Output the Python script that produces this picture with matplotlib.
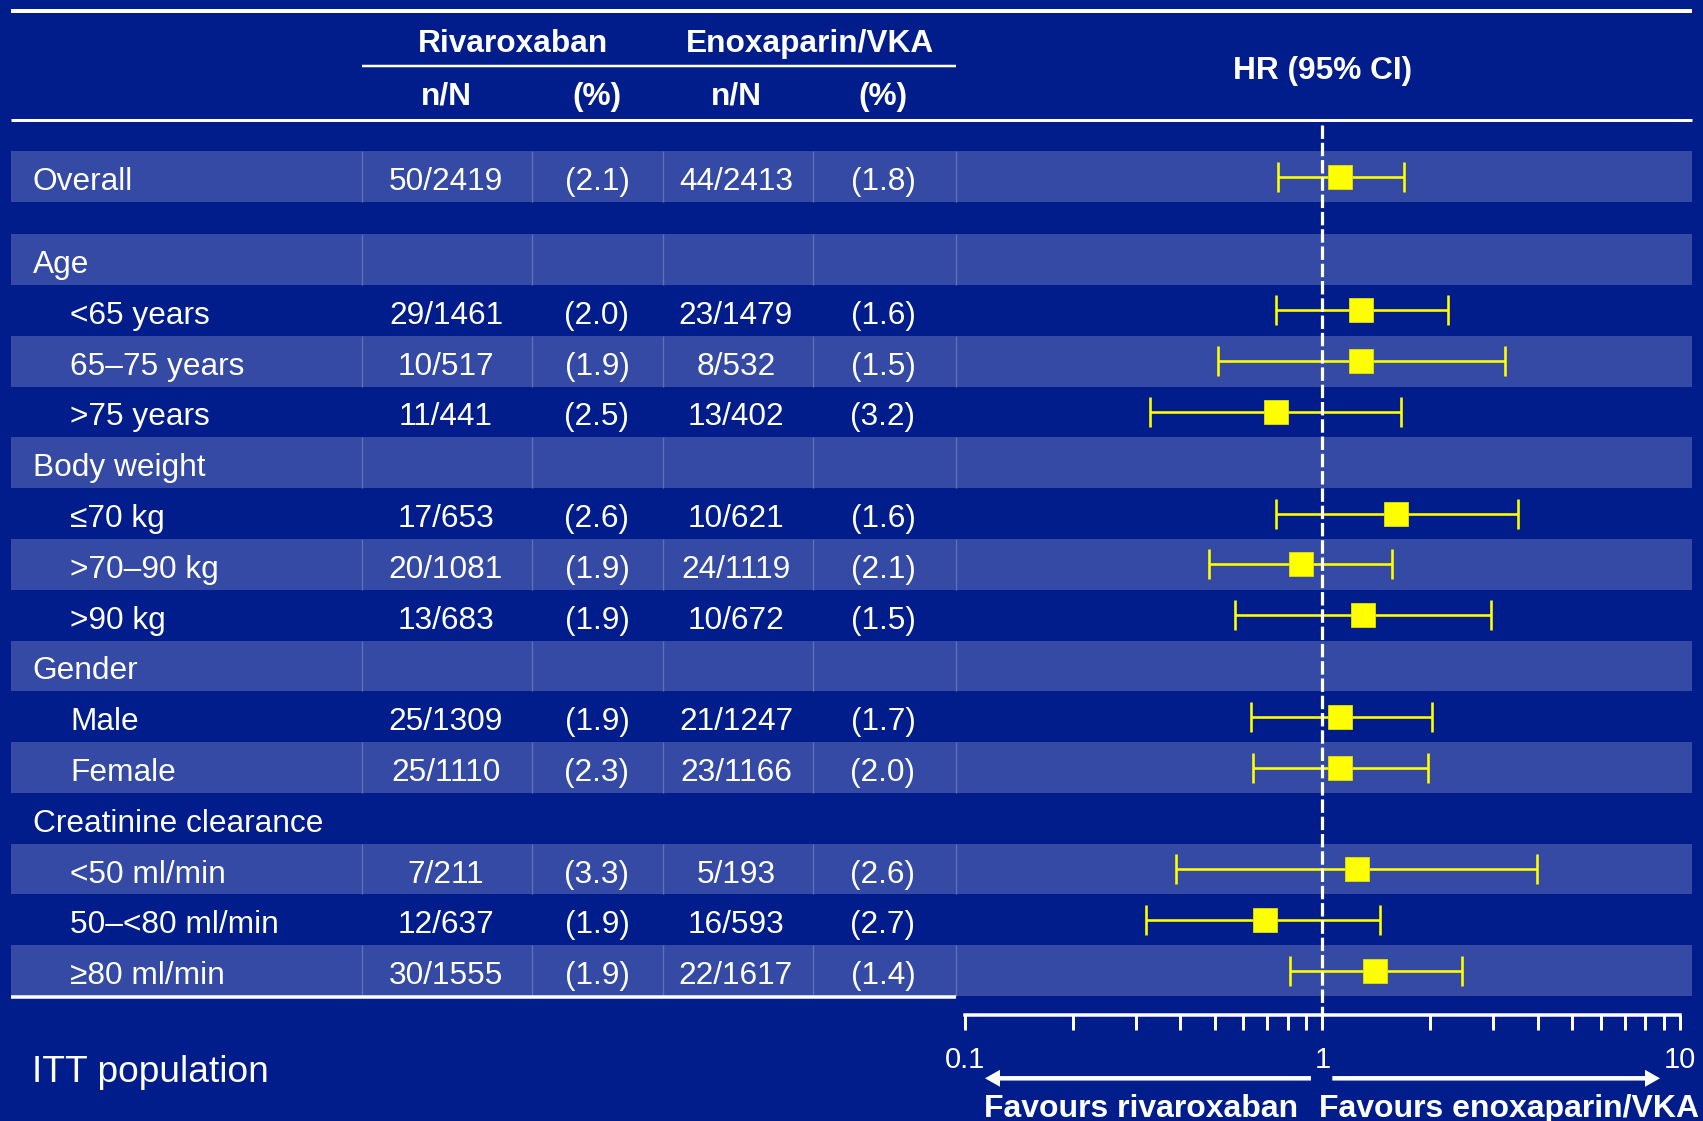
import matplotlib
matplotlib.use("Agg")
import matplotlib.pyplot as plt
from matplotlib.patches import Rectangle, FancyArrow
from matplotlib.ticker import FixedLocator, FixedFormatter, NullFormatter

plt.rcParams['font.family'] = ['Liberation Sans', 'DejaVu Sans']

# ---------------------------------------------------------------- data
labels = ["Overall", "Age", "<65 years", "65\u201375 years", ">75 years",
          "Body weight", "\u226470 kg", ">70\u201390 kg", ">90 kg",
          "Gender", "Male", "Female",
          "Creatinine clearance", "<50 ml/min", "50\u2013<80 ml/min", "\u226580 ml/min"]
indented = [False, False, True, True, True, False, True, True, True,
            False, True, True, False, True, True, True]

riva_events = [50, None, 29, 10, 11, None, 17, 20, 13, None, 25, 25, None, 7, 12, 30]
riva_total = [2419, None, 1461, 517, 441, None, 653, 1081, 683, None, 1309, 1110, None, 211, 637, 1555]
riva_pct = [2.1, None, 2.0, 1.9, 2.5, None, 2.6, 1.9, 1.9, None, 1.9, 2.3, None, 3.3, 1.9, 1.9]
enox_events = [44, None, 23, 8, 13, None, 10, 24, 10, None, 21, 23, None, 5, 16, 22]
enox_total = [2413, None, 1479, 532, 402, None, 621, 1119, 672, None, 1247, 1166, None, 193, 593, 1617]
enox_pct = [1.8, None, 1.6, 1.5, 3.2, None, 1.6, 2.1, 1.5, None, 1.7, 2.0, None, 2.6, 2.7, 1.4]

hr = [1.12, None, 1.28, 1.28, 0.74, None, 1.61, 0.87, 1.30, None, 1.12, 1.12, None, 1.25, 0.69, 1.40]
ci_low = [0.75, None, 0.74, 0.51, 0.33, None, 0.74, 0.48, 0.57, None, 0.63, 0.64, None, 0.39, 0.32, 0.81]
ci_high = [1.69, None, 2.24, 3.24, 1.66, None, 3.53, 1.56, 2.96, None, 2.03, 1.97, None, 3.97, 1.45, 2.45]

axis_ticks = [0.1, 1, 10]
axis_tick_labels = ["0.1", "1", "10"]
axis_minor = [0.2, 0.3, 0.4, 0.5, 0.6, 0.7, 0.8, 0.9, 2, 3, 4, 5, 6, 7, 8, 9]

# ---------------------------------------------------------------- style
BG = "#001D8B"
BAND = "#344AA4"
SEP = "#5C6FBA"
YELLOW = "#FFFF00"
W, H = 1703, 1121
PX = 0.72              # points per pixel at 100 dpi
FS = 22.8              # body text size

# row geometry (pixel units of the full-figure axes)
row_h = 50.8
row_y = [176.6] + [259.5 + row_h * i for i in range(len(labels) - 1)]
light = [True] + [(i % 2 == 0) for i in range(len(labels) - 1)]
col_sep = [362, 532, 663, 812.5, 956]
col_x = [446, 597, 736, 883]

fig = plt.figure(figsize=(W / 100, H / 100), dpi=100)
fig.patch.set_facecolor(BG)

ax = fig.add_axes([0, 0, 1, 1])
ax.set_xlim(0, W)
ax.set_ylim(H, 0)
ax.axis("off")

# alternating row bands
for y, lt in zip(row_y, light):
    if lt:
        ax.add_patch(Rectangle((11, y - row_h / 2), 1681, row_h, fc=BAND, ec="none", zorder=1))
        ax.vlines(col_sep, y - row_h / 2, y + row_h / 2, color=SEP, lw=1.0, zorder=2)

# horizontal rules
rule = dict(color="white", solid_capstyle="butt", zorder=3)
ax.plot([11, 1692], [11, 11], lw=4 * PX, **rule)
ax.plot([362, 956], [66, 66], lw=2.5 * PX, **rule)
ax.plot([11, 1692], [119.5, 119.5], lw=3 * PX, **rule)
ax.plot([11, 956], [997, 997], lw=3.5 * PX, **rule)

# column headers
hdr = dict(color="white", fontsize=FS, fontweight="bold", ha="center", va="baseline")
ax.text(512.6, 52, "Rivaroxaban", **hdr)
ax.text(809.6, 52, "Enoxaparin/VKA", **hdr)
for x, t in zip(col_x, ["n/N", "(%)", "n/N", "(%)"]):
    ax.text(x, 104.5, t, **hdr)

# table body
body = dict(color="white", fontsize=FS, va="baseline", zorder=4)
for i, lab in enumerate(labels):
    yb = row_y[i] + 13.5
    ax.text(70.5 if indented[i] else 32.7, yb, lab, ha="left", **body)
    if riva_events[i] is None:
        continue
    ax.text(col_x[0], yb, f"{riva_events[i]}/{riva_total[i]}", ha="center", **body)
    ax.text(col_x[1], yb, f"({riva_pct[i]:.1f})", ha="center", **body)
    ax.text(col_x[2], yb, f"{enox_events[i]}/{enox_total[i]}", ha="center", **body)
    ax.text(col_x[3], yb, f"({enox_pct[i]:.1f})", ha="center", **body)

ax.text(32, 1082, "ITT population", color="white", fontsize=26.7, va="baseline")

# direction arrows and captions
arrow = dict(width=4.5, head_width=17, head_length=15, length_includes_head=True,
             color="white", lw=0, zorder=3)
ax.add_patch(FancyArrow(1311, 1078.3, 985 - 1311, 0, **arrow))
ax.add_patch(FancyArrow(1332.3, 1078.3, 1660 - 1332.3, 0, **arrow))
cap = dict(color="white", fontsize=23, fontweight="bold", ha="center", va="baseline")
ax.text(1141, 1117, "Favours rivaroxaban", **cap)
ax.text(1509.5, 1117, "Favours enoxaparin/VKA", **cap)

# ---------------------------------------------------------------- forest plot
fax = fig.add_axes([965 / W, 0, 715 / W, 1])
fax.set_xscale("log")
fax.set_xlim(0.1, 10)
fax.set_ylim(H, 0)
fax.patch.set_alpha(0)
for s in ("top", "left", "right"):
    fax.spines[s].set_visible(False)
fax.spines["bottom"].set_position(("data", 1015))
fax.spines["bottom"].set_color("white")
fax.spines["bottom"].set_linewidth(3.5 * PX)
fax.set_yticks([])
fax.xaxis.set_major_locator(FixedLocator(axis_ticks))
fax.xaxis.set_major_formatter(FixedFormatter(axis_tick_labels))
fax.xaxis.set_minor_locator(FixedLocator(axis_minor))
fax.xaxis.set_minor_formatter(NullFormatter())
fax.tick_params(axis="x", which="both", direction="out", length=15 * PX,
                width=3 * PX, color="white", labelcolor="white", labelsize=21, pad=11.5)

fax.text(1, 79, "HR (95% CI)", color="white", fontsize=FS, fontweight="bold",
         ha="center", va="baseline")

# line of no effect
fax.plot([1, 1], [125, 1015], color="white", lw=3.2 * PX, dashes=(4.2, 1.2), zorder=6)

for i in range(len(labels)):
    if hr[i] is None:
        continue
    fax.errorbar(hr[i], row_y[i], xerr=[[hr[i] - ci_low[i]], [ci_high[i] - hr[i]]],
                 fmt="none", ecolor=YELLOW, elinewidth=2.6 * PX, capsize=15 * PX,
                 capthick=2.6 * PX, zorder=5)
    fax.plot(hr[i], row_y[i], marker="s", ms=24.5 * PX, mfc=YELLOW, mec="#E2E200",
             mew=0.6, ls="none", zorder=7)

fig.savefig("out.png", dpi=100, facecolor=BG)
